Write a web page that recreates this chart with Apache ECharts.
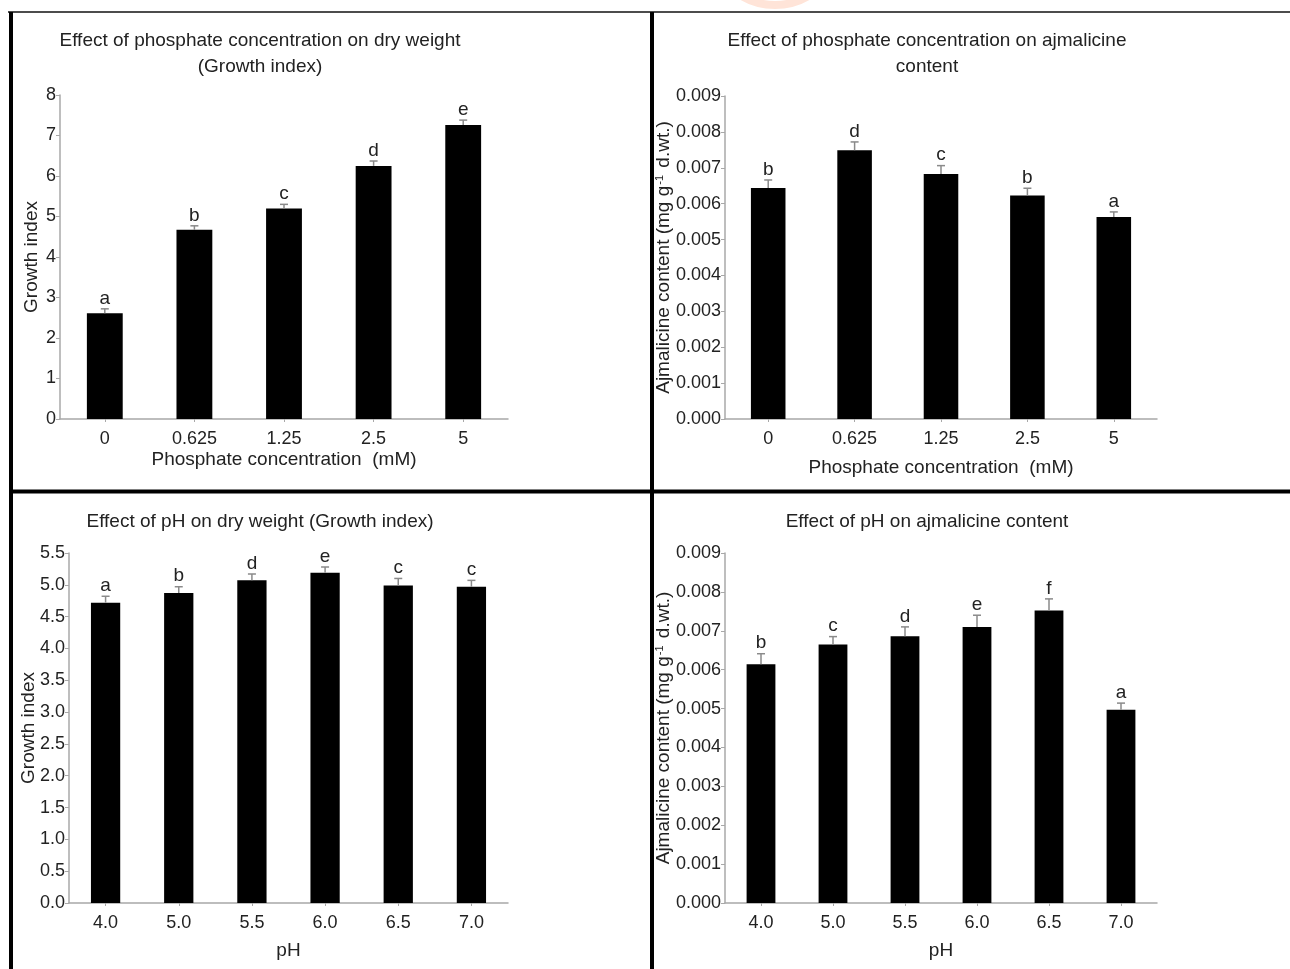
<!DOCTYPE html>
<html>
<head>
<meta charset="utf-8">
<script src="https://cdn.jsdelivr.net/npm/echarts@6/dist/echarts.min.js"></script>
<style>
html,body{margin:0;padding:0;background:#fff;}
#c{width:1290px;height:969px;}
</style>
</head>
<body>
<div id="c"></div>
<script>
// ---- data ----
var phosCategories = ['0', '0.625', '1.25', '2.5', '5'];
var phosGrowth = [2.61, 4.67, 5.20, 6.25, 7.26];
var phosGrowthErr = [0.11, 0.10, 0.10, 0.12, 0.12];
var phosGrowthLetters = ['a', 'b', 'c', 'd', 'e'];

var phosAjm = [0.00644, 0.00749, 0.00683, 0.00623, 0.00563];
var phosAjmErr = [0.00022, 0.00023, 0.00023, 0.00020, 0.00014];
var phosAjmLetters = ['b', 'd', 'c', 'b', 'a'];

var phCategories = ['4.0', '5.0', '5.5', '6.0', '6.5', '7.0'];
var phGrowth = [4.72, 4.87, 5.07, 5.19, 4.99, 4.97];
var phGrowthErr = [0.10, 0.10, 0.10, 0.09, 0.11, 0.10];
var phGrowthLetters = ['a', 'b', 'd', 'e', 'c', 'c'];

var phAjm = [0.00614, 0.00665, 0.00686, 0.00710, 0.00752, 0.00497];
var phAjmErr = [0.00027, 0.00020, 0.00024, 0.00030, 0.00030, 0.00017];
var phAjmLetters = ['b', 'c', 'd', 'e', 'f', 'a'];

var titles = [
  'Effect of phosphate concentration on dry weight\n(Growth index)',
  'Effect of phosphate concentration on ajmalicine\ncontent',
  'Effect of pH on dry weight (Growth index)',
  'Effect of pH on ajmalicine content'
];
var xNames = ['Phosphate concentration  (mM)', 'Phosphate concentration  (mM)', 'pH', 'pH'];
var yNames = ['Growth index', 'Ajmalicine content (mg g{sup|-1} d.wt.)', 'Growth index', 'Ajmalicine content (mg g{sup|-1} d.wt.)'];

// ---- chart ----
var FONT = '"Liberation Sans", Arial, sans-serif';
var TXT = '#222';
var AXC = '#a8a8a8';

var panels = [
  {cats: phosCategories, vals: phosGrowth, err: phosGrowthErr, let: phosGrowthLetters,
   grid: {left: 60, top: 95, width: 448, height: 324}, yMax: 8, yInt: 1, dec: 0,
   xGap: 31, yGap: 19, tTop: 23, tX: 255},
  {cats: phosCategories, vals: phosAjm, err: phosAjmErr, let: phosAjmLetters,
   grid: {left: 725, top: 96, width: 432, height: 323}, yMax: 0.009, yInt: 0.001, dec: 3,
   xGap: 39, yGap: 52, tTop: 23, tX: 922},
  {cats: phCategories, vals: phGrowth, err: phGrowthErr, let: phGrowthLetters,
   grid: {left: 69, top: 553, width: 439, height: 350}, yMax: 5.5, yInt: 0.5, dec: 1,
   xGap: 38, yGap: 31, tTop: 504, tX: 255},
  {cats: phCategories, vals: phAjm, err: phAjmErr, let: phAjmLetters,
   grid: {left: 725, top: 553, width: 432, height: 350}, yMax: 0.009, yInt: 0.001, dec: 3,
   xGap: 38, yGap: 52, tTop: 504, tX: 922}
];

var option = {
  backgroundColor: '#fff',
  animation: false,
  title: [], grid: [], xAxis: [], yAxis: [], series: [],
  graphic: []
};

panels.forEach(function (p, i) {
  option.title.push({
    text: titles[i], left: p.tX, top: p.tTop, textAlign: 'center',
    textStyle: {fontFamily: FONT, fontSize: 19, fontWeight: 'normal', color: TXT, lineHeight: 26}
  });
  option.grid.push(p.grid);
  option.xAxis.push({
    type: 'category', gridIndex: i, data: p.cats,
    name: xNames[i], nameLocation: 'middle', nameGap: p.xGap, nameMoveOverlap: false,
    nameTextStyle: {fontFamily: FONT, fontSize: 19, color: TXT},
    axisLine: {lineStyle: {color: AXC, width: 1.5}},
    axisTick: {show: true, alignWithLabel: true, length: 3, lineStyle: {color: AXC}},
    axisLabel: {fontFamily: FONT, fontSize: 18, color: TXT, margin: 11},
    splitLine: {show: false}
  });
  option.yAxis.push({
    type: 'value', gridIndex: i, min: 0, max: p.yMax, interval: p.yInt,
    name: yNames[i], nameLocation: 'middle', nameGap: p.yGap, nameRotate: 90, nameMoveOverlap: false,
    nameTextStyle: {fontFamily: FONT, fontSize: 19, color: TXT,
      rich: {sup: {fontFamily: FONT, fontSize: 11, color: TXT, verticalAlign: 'top', padding: [0, 2, 8, 1]}}},
    axisLine: {show: true, lineStyle: {color: AXC, width: 1.5}},
    axisTick: {show: true, length: 4, lineStyle: {color: AXC}},
    axisLabel: {fontFamily: FONT, fontSize: 18, color: TXT, margin: 4,
      formatter: (function (d) { return function (v) { return v.toFixed(d); }; })(p.dec)},
    splitLine: {show: false}
  });
  option.series.push({
    type: 'bar', xAxisIndex: i, yAxisIndex: i, data: p.vals, barWidth: '40%',
    itemStyle: {color: '#000'}, silent: true
  });
  var ed = p.vals.map(function (v, k) { return [k, v, v + p.err[k]]; });
  option.series.push({
    type: 'custom', xAxisIndex: i, yAxisIndex: i, data: ed, silent: true, z: 5,
    renderItem: function (params, api) {
      var x = api.value(0);
      var base = api.coord([x, api.value(1)]);
      var top = api.coord([x, api.value(2)]);
      var letter = p.let[params.dataIndex];
      return {
        type: 'group',
        children: [
          {type: 'line', shape: {x1: base[0], y1: base[1], x2: top[0], y2: top[1]},
           style: {stroke: '#8a8a8a', lineWidth: 1.5}},
          {type: 'line', shape: {x1: top[0] - 4, y1: top[1], x2: top[0] + 4, y2: top[1]},
           style: {stroke: '#8a8a8a', lineWidth: 1.5}},
          {type: 'text', x: top[0], y: top[1] - 1,
           style: {text: letter, fill: TXT, font: '19px ' + FONT, textAlign: 'center', textVerticalAlign: 'bottom'}}
        ]
      };
    }
  });
});

// frame lines and faint watermark arc at the top edge
option.graphic = [
  {type: 'arc', z: -2, shape: {cx: 775, cy: -60, r: 65, startAngle: 0, endAngle: Math.PI},
   style: {stroke: '#ffe4d8', lineWidth: 8, fill: null}},
  {type: 'line', z: -1, shape: {x1: 8, y1: 12, x2: 1290, y2: 12}, style: {stroke: '#111', lineWidth: 1.5}},
  {type: 'line', z: -1, shape: {x1: 11, y1: 12, x2: 11, y2: 969}, style: {stroke: '#000', lineWidth: 4}},
  {type: 'line', z: -1, shape: {x1: 652, y1: 12, x2: 652, y2: 969}, style: {stroke: '#000', lineWidth: 4}},
  {type: 'line', z: -1, shape: {x1: 11, y1: 491.5, x2: 1290, y2: 491.5}, style: {stroke: '#000', lineWidth: 4}}
];

var chart = echarts.init(document.getElementById('c'), null, {renderer: 'canvas'});
chart.setOption(option);
</script>
</body>
</html>
